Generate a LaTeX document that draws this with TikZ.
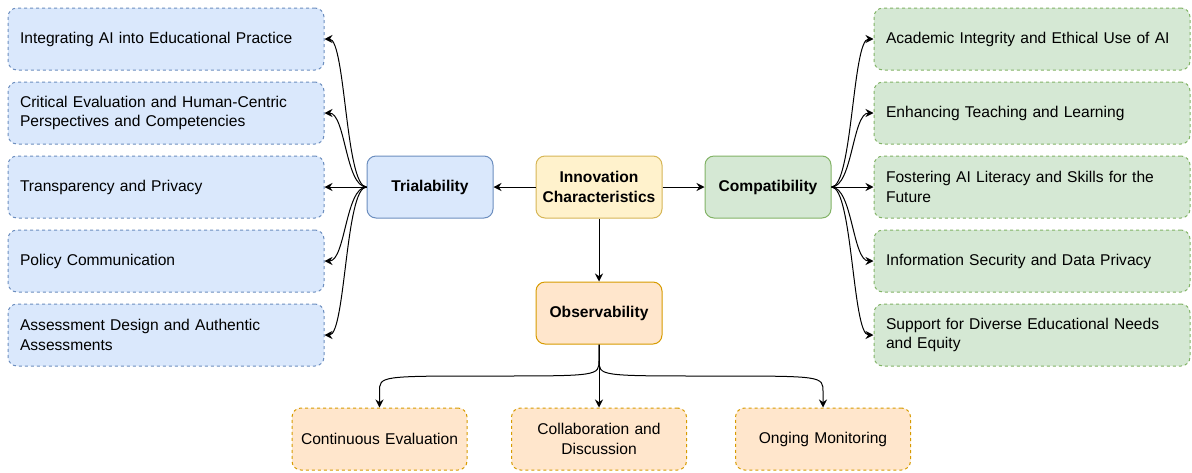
\documentclass[tikz,border=0pt]{standalone}
\usepackage{fontspec}
\setmainfont{Liberation Sans}
\usetikzlibrary{arrows.meta, positioning, calc}

\definecolor{triFill}{HTML}{DAE8FC}
\definecolor{triLine}{HTML}{6C8EBF}
\definecolor{comFill}{HTML}{D5E8D4}
\definecolor{comLine}{HTML}{82B366}
\definecolor{innFill}{HTML}{FFF2CC}
\definecolor{innLine}{HTML}{D6B656}
\definecolor{obsFill}{HTML}{FFE6CC}
\definecolor{obsLine}{HTML}{D79B00}

\begin{document}
\begin{tikzpicture}[
    x=0.75pt, y=-0.75pt,
    font=\fontsize{11.7}{14.5}\selectfont,
    >={Stealth[length=6pt, width=6pt, inset=2pt]},
    line width=0.75pt,
    core/.style={rectangle, draw, rounded corners=6.75pt, minimum width=94.5pt,
                 minimum height=46.5pt, align=center, inner sep=2pt,
                 font=\fontsize{11.7}{14.5}\selectfont\bfseries},
    leaf/.style={rectangle, draw, rounded corners=6.75pt, dash pattern=on 2.25pt off 2.25pt,
                 minimum height=46.5pt, text width=219pt, inner xsep=9pt, align=left},
    sub/.style={rectangle, draw, rounded corners=6.75pt, dash pattern=on 2.25pt off 2.25pt,
                minimum height=46.5pt, text width=123pt, inner xsep=4.125pt, align=center},
    % horizontal-first curved branch
    branch/.style={to path={let \p1=(\tikztostart), \p2=(\tikztotarget),
        \n1={(\x1+\x2)/2} in
        .. controls (\n1,\y1) and (\n1,\y2) .. (\p2)}},
    % vertical-first curved branch
    drop/.style={to path={let \p1=(\tikztostart), \p2=(\tikztotarget),
        \n1={(\y1+\y2)/2}, \n2={(3*\y1+\y2)/4}, \n3={(\y1+3*\y2)/4}, \n4={(\x1+\x2)/2} in
        -- (\x1,\n2) .. controls (\x1,\n1) .. (\n4,\n1)
        .. controls (\x2,\n1) .. (\x2,\n3) -- (\p2)}}
]
\useasboundingbox (0,0) rectangle (1192,472);

% ----------------------
% Nodes
% ----------------------

% Centre
\node[core, fill=innFill, draw=innLine] (inn) at (599,187) {Innovation\\Characteristics};
\node[core, fill=triFill, draw=triLine] (tri) at (430,187) {Trialability};
\node[core, fill=comFill, draw=comLine] (com) at (768,187) {Compatibility};
\node[core, fill=obsFill, draw=obsLine] (obs) at (599,313) {Observability};

% Trialability items
\node[leaf, fill=triFill, draw=triLine] (t1) at (166,39) {Integrating AI into Educational Practice};
\node[leaf, fill=triFill, draw=triLine, below=8.25pt of t1] (t2) {Critical Evaluation and Human-Centric\\Perspectives and Competencies};
\node[leaf, fill=triFill, draw=triLine, below=8.25pt of t2] (t3) {Transparency and Privacy};
\node[leaf, fill=triFill, draw=triLine, below=8.25pt of t3] (t4) {Policy Communication};
\node[leaf, fill=triFill, draw=triLine, below=8.25pt of t4] (t5) {Assessment Design and Authentic\\Assessments};

% Compatibility items
\node[leaf, fill=comFill, draw=comLine] (c1) at (1032,39) {Academic Integrity and Ethical Use of AI};
\node[leaf, fill=comFill, draw=comLine, below=8.25pt of c1] (c2) {Enhancing Teaching and Learning};
\node[leaf, fill=comFill, draw=comLine, below=8.25pt of c2] (c3) {Fostering AI Literacy and Skills for the\\Future};
\node[leaf, fill=comFill, draw=comLine, below=8.25pt of c3] (c4) {Information Security and Data Privacy};
\node[leaf, fill=comFill, draw=comLine, below=8.25pt of c4] (c5) {Support for Diverse Educational Needs\\and Equity};

% Observability items
\node[sub, fill=obsFill, draw=obsLine] (o1) at (379.5,439) {Continuous Evaluation};
\node[sub, fill=obsFill, draw=obsLine] (o2) at (599,439) {Collaboration and\\Discussion};
\node[sub, fill=obsFill, draw=obsLine] (o3) at (823,439) {Onging Monitoring};

% ----------------------
% Arrows
% ----------------------

% Centre to the three characteristics
\draw[->] (inn) -- (tri);
\draw[->] (inn) -- (com);
\draw[->] (inn) -- (obs);

% Trialability branches
\draw[->] (tri.west) to[branch] (t1.east);
\draw[->] (tri.west) to[branch] (t2.east);
\draw[->] (tri.west) -- (t3.east);
\draw[->] (tri.west) to[branch] (t4.east);
\draw[->] (tri.west) to[branch] (t5.east);

% Compatibility branches
\draw[->] (com.east) to[branch] (c1.west);
\draw[->] (com.east) to[branch] (c2.west);
\draw[->] (com.east) -- (c3.west);
\draw[->] (com.east) to[branch] (c4.west);
\draw[->] (com.east) to[branch] (c5.west);

% Observability branches
\draw[->] (obs.south) to[drop] (o1.north);
\draw[->] (obs.south) -- (o2.north);
\draw[->] (obs.south) to[drop] (o3.north);

\end{tikzpicture}
\end{document}
